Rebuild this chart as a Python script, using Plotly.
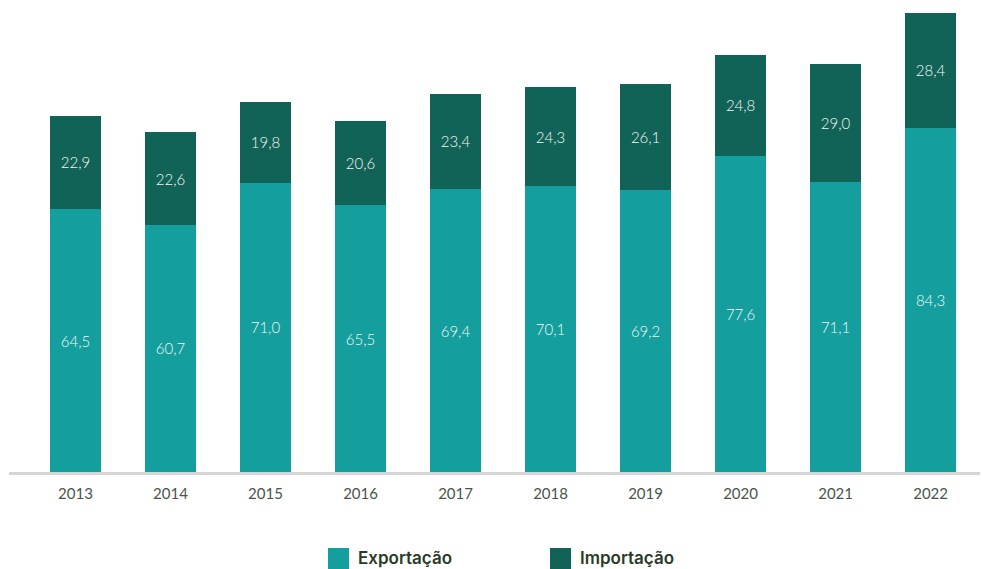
import plotly.graph_objects as go

years = ["2013", "2014", "2015", "2016", "2017", "2018", "2019", "2020", "2021", "2022"]
exportacao = [64.5, 60.7, 71.0, 65.5, 69.4, 70.1, 69.2, 77.6, 71.1, 84.3]
importacao = [22.9, 22.6, 19.8, 20.6, 23.4, 24.3, 26.1, 24.8, 29.0, 28.4]

series_names = ["Exportação", "Importação"]
colors = ["#149e9e", "#126357"]

W, H = 982, 569
M_L, M_R, M_T, M_B = 9, 2, 13, 97
x_pos = list(range(len(years)))
label_font = dict(family="Lato", size=15, color="#f2f7f4", weight=300)

fig = go.Figure()
for name, vals, col in zip(series_names, [exportacao, importacao], colors):
    fig.add_trace(go.Bar(
        x=x_pos, y=vals, name=name, marker=dict(color=col, line=dict(width=0)),
        width=0.54, texttemplate="%{y:.1f}", textposition="inside",
        insidetextanchor="middle", textfont=label_font, showlegend=False,
        hoverinfo="skip",
    ))

fig.update_layout(
    width=W, height=H, barmode="stack", separators=",.",
    margin=dict(l=M_L, r=M_R, t=M_T, b=M_B),
    plot_bgcolor="white", paper_bgcolor="white",
    xaxis=dict(
        range=[-0.7, 9.52], tickmode="array", tickvals=x_pos, ticktext=years,
        showgrid=False, zeroline=False, showline=True, linecolor="#d6d6d6",
        linewidth=3, ticks="outside", ticklen=6, tickcolor="rgba(0,0,0,0)",
        tickfont=dict(family="Lato", size=15, color="#4a544a"),
    ),
    yaxis=dict(range=[0, 112.6], visible=False, fixedrange=True),
)

# Custom legend: colored squares with labels below the plot
plot_h = H - M_T - M_B
def py(pixel_y):
    return (H - M_B - pixel_y) / plot_h

legend_x = [328, 550]
for lx, name, col in zip(legend_x, series_names, colors):
    fig.add_shape(type="rect", xref="paper", yref="paper",
                  x0=(lx - M_L) / (W - M_L - M_R), x1=(lx + 21 - M_L) / (W - M_L - M_R),
                  y0=py(569), y1=py(548), fillcolor=col, line=dict(width=0))
    fig.add_annotation(xref="paper", yref="paper",
                       x=(lx + 28 - M_L) / (W - M_L - M_R), y=py(558),
                       text=name, showarrow=False, xanchor="left", yanchor="middle",
                       font=dict(family="Inter", size=17, color="#2b3a28", weight=600))

fig.write_html("out.html")
